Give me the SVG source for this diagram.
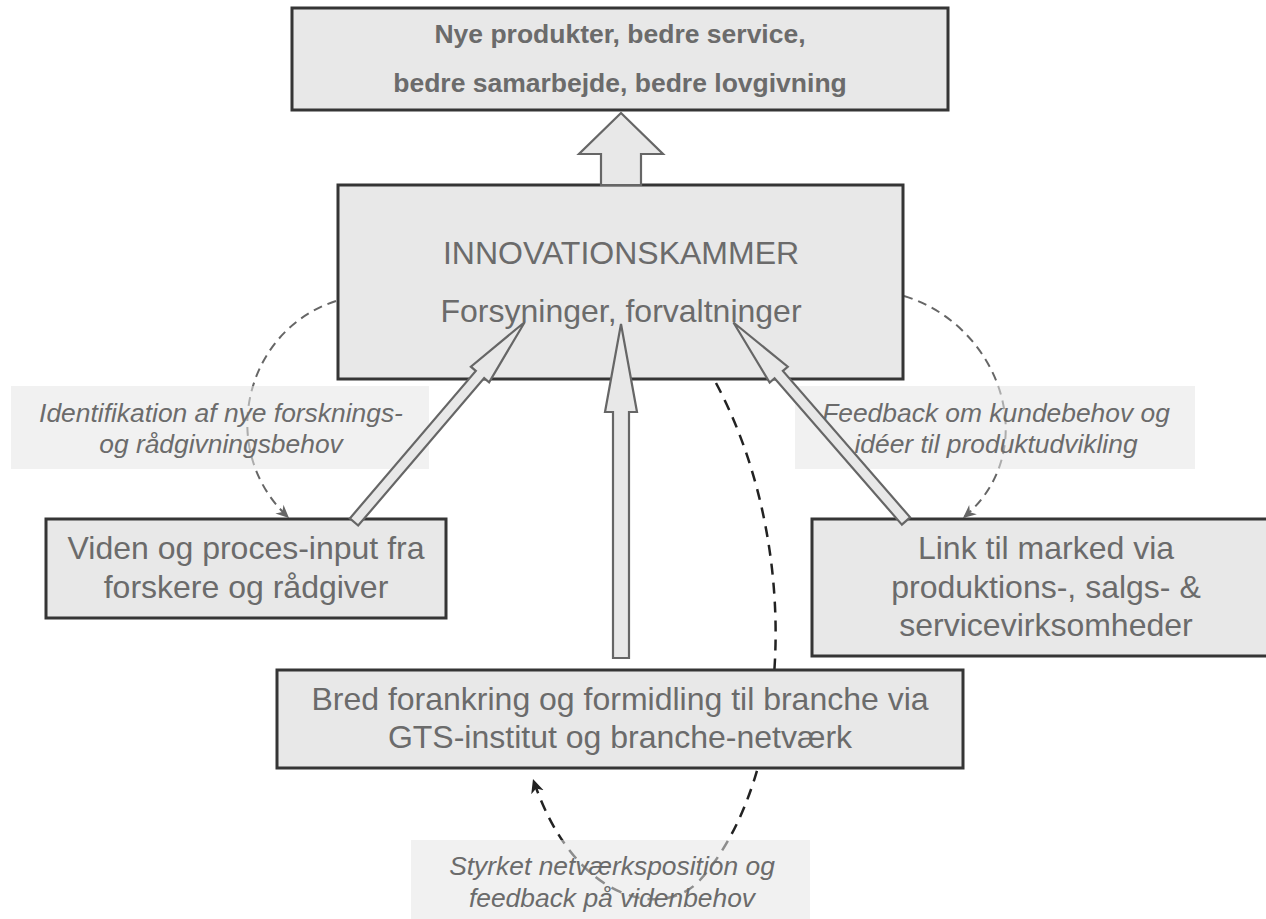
<svg xmlns="http://www.w3.org/2000/svg" width="1266" height="919" viewBox="0 0 1266 919">
  <defs>
    <marker id="ahGray" markerUnits="userSpaceOnUse" viewBox="-14 -8 16 16" markerWidth="16" markerHeight="16" refX="0" refY="0" orient="auto">
      <path d="M0,0 L-13,-6 L-9,0 L-13,6 Z" fill="#666"/>
    </marker>
    <marker id="ahBlack" markerUnits="userSpaceOnUse" viewBox="-14 -8 16 16" markerWidth="16" markerHeight="16" refX="0" refY="0" orient="auto">
      <path d="M0,0 L-14,-6.5 L-10,0 L-14,6.5 Z" fill="#222"/>
    </marker>
  </defs>
  <style>
    .node { fill: #e8e8e8; stroke: #353535; stroke-width: 3; }
    .lbl { fill: #e6e6e6; fill-opacity: 0.55; stroke: none; }
    .big { font-family: "Liberation Sans", Arial, sans-serif; font-size: 32px; fill: #6b6b6b; text-anchor: middle; }
    .bold { font-family: "Liberation Sans", Arial, sans-serif; font-size: 26.5px; font-weight: bold; fill: #6b6b6b; text-anchor: middle; }
    .ital { font-family: "Liberation Sans", Arial, sans-serif; font-size: 26.4px; font-style: italic; fill: #6b6b6b; text-anchor: middle; }
    .dashG { fill: none; stroke: #666; stroke-width: 2; stroke-dasharray: 9 6; }
    .dashB { fill: none; stroke: #222; stroke-width: 2.5; stroke-dasharray: 11 8; }
    .blk { fill: #e8e8e8; stroke: #666; stroke-width: 2.2; stroke-linejoin: miter; }
  </style>

  <g id="connectors-dashed">
    <path class="dashG" d="M336,301 C245,330 215,450 289,518" marker-end="url(#ahGray)"/>
    <path class="dashG" d="M904,296 C1000,325 1045,450 963,518" marker-end="url(#ahGray)"/>
    <path class="dashB" d="M716,383 C805,550 790,780 700,880 C665,919 575,905 533,779" marker-end="url(#ahBlack)"/>
  </g>

  <g id="node-top">
    <rect class="node" x="292" y="8" width="656" height="102"/>
    <text class="bold" x="620" y="43">Nye produkter, bedre service,</text>
    <text class="bold" x="620" y="92">bedre samarbejde, bedre lovgivning</text>
  </g>

  <g id="node-innovationskammer">
    <rect class="node" x="338" y="185" width="565" height="194"/>
    <text class="big" x="621" y="264">INNOVATIONSKAMMER</text>
    <text class="big" x="621" y="322">Forsyninger, forvaltninger</text>
  </g>

  <g id="node-viden">
    <rect class="node" x="46" y="519" width="400" height="99"/>
    <text class="big" x="246" y="559">Viden og proces-input fra</text>
    <text class="big" x="246" y="598">forskere og rådgiver</text>
  </g>

  <g id="node-link">
    <rect class="node" x="812" y="519" width="470" height="137"/>
    <text class="big" x="1046" y="559">Link til marked via</text>
    <text class="big" x="1046" y="598">produktions-, salgs- &amp;</text>
    <text class="big" x="1046" y="636">servicevirksomheder</text>
  </g>

  <g id="node-bred">
    <rect class="node" x="277" y="670" width="686" height="98"/>
    <text class="big" x="620" y="710">Bred forankring og formidling til branche via</text>
    <text class="big" x="620" y="748">GTS-institut og branche-netværk</text>
  </g>

  <g id="label-identifikation">
    <rect class="lbl" x="11" y="386" width="418" height="83"/>
    <text class="ital" x="221" y="422">Identifikation af nye forsknings-</text>
    <text class="ital" x="221" y="453">og rådgivningsbehov</text>
  </g>

  <g id="label-feedback">
    <rect class="lbl" x="795" y="386" width="400" height="83"/>
    <text class="ital" x="996" y="422">Feedback om kundebehov og</text>
    <text class="ital" x="996" y="453">idéer til produktudvikling</text>
  </g>

  <g id="label-styrket">
    <rect class="lbl" x="411" y="840" width="399" height="85"/>
    <text class="ital" x="612" y="875">Styrket netværksposition og</text>
    <text class="ital" x="612" y="907">feedback på videnbehov</text>
  </g>

  <g id="connectors-block">
    <polygon class="blk" points="601,185 601,154 579,154 621,113 663,154 641,154 641,185"/>
    <polygon class="blk" points="613,658 613,412 605,412 621,324 637,412 629,412 629,658"/>
    <polygon class="blk" transform="translate(354,522) rotate(-49.5)" points="0,-5.5 194,-5.5 194,-12 263,0 194,12 194,5.5 0,5.5"/>
    <polygon class="blk" transform="translate(906,521) rotate(-131)" points="0,-5.5 194,-5.5 194,-12 263,0 194,12 194,5.5 0,5.5"/>
  </g>
</svg>
